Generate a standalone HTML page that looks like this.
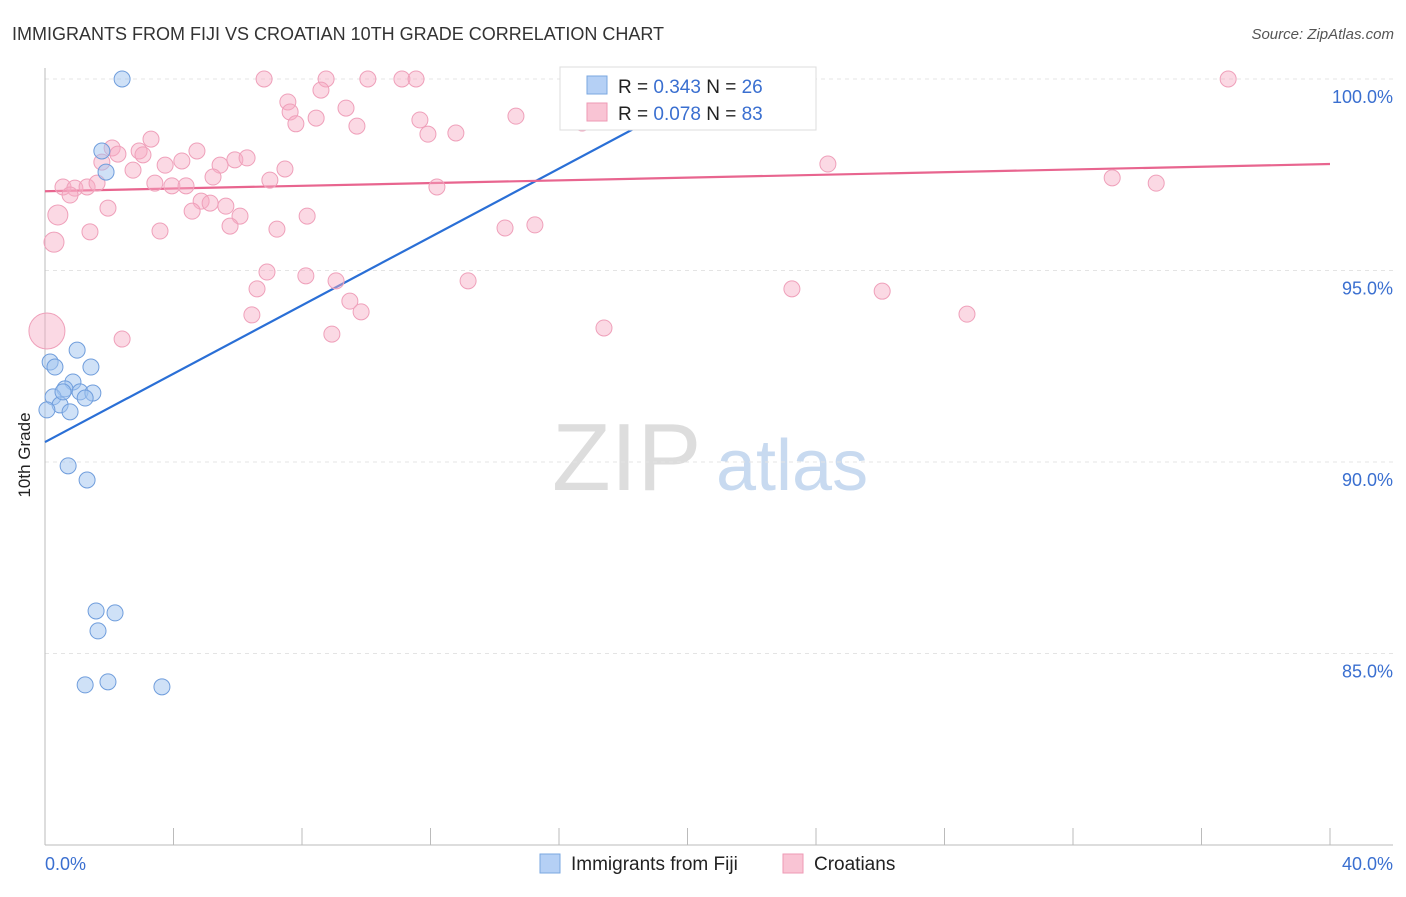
<!DOCTYPE html>
<html><head><meta charset="utf-8"><style>
body{margin:0;background:#fff;font-family:"Liberation Sans",sans-serif;}
svg text{font-family:"Liberation Sans",sans-serif;}
</style></head><body>
<svg id="c" width="1406" height="892" viewBox="0 0 1406 892">
<text x="12" y="40" font-size="18" fill="#333">IMMIGRANTS FROM FIJI VS CROATIAN 10TH GRADE CORRELATION CHART</text>
<text x="1394" y="39" font-size="15" fill="#555" text-anchor="end" font-style="italic">Source: ZipAtlas.com</text>
<text x="30" y="455" font-size="17" fill="#222" text-anchor="middle" transform="rotate(-90 30 455)">10th Grade</text>
<g><text x="552" y="490" font-size="96" fill="#ddd" font-family="Liberation Serif, serif">ZIP</text><text x="716" y="490" font-size="72" fill="#c8daf0">atlas</text></g>
<g id="grid"></g><g id="axes"></g><g id="trend"></g><g id="pts"></g>
<g>
<rect x="560" y="67" width="256" height="63" fill="#fff" stroke="#ddd"/>
<rect x="587" y="76" width="20" height="18" fill="#b5d0f5" stroke="#7aa7e0"/>
<text x="618" y="93" font-size="19" fill="#222">R = <tspan fill="#3a6fd0">0.343</tspan>   N = <tspan fill="#3a6fd0">26</tspan></text>
<rect x="587" y="103" width="20" height="18" fill="#f9c4d4" stroke="#ee9ab5"/>
<text x="618" y="120" font-size="19" fill="#222">R = <tspan fill="#3a6fd0">0.078</tspan>   N = <tspan fill="#3a6fd0">83</tspan></text>
</g>
<g>
<rect x="540" y="854" width="20" height="19" fill="#b5d0f5" stroke="#7aa7e0"/>
<text x="571" y="870" font-size="19" fill="#222">Immigrants from Fiji</text>
<rect x="783" y="854" width="20" height="19" fill="#f9c4d4" stroke="#ee9ab5"/>
<text x="814" y="870" font-size="19" fill="#222">Croatians</text>
</g>
</svg>
<script>
const yTicks=[100,95,90,85];
const yTickLabels=["100.0%","95.0%","90.0%","85.0%"];
const xTicks=[0,4,8,12,16,20,24,28,32,36,40];
const xEndLabels=["0.0%","40.0%"];
const fijiX=[2.40,1.77,1.90,0.16,0.31,1.00,1.43,0.87,0.62,1.09,1.49,0.25,0.47,1.25,0.06,0.78,0.72,1.31,1.59,2.18,1.65,1.25,1.96,3.64,18.06,0.56];
const fijiY=[100,98.12,97.57,92.61,92.48,92.92,92.48,92.09,91.91,91.83,91.80,91.70,91.49,91.67,91.36,91.31,89.90,89.53,86.11,86.06,85.59,84.18,84.26,84.13,100,91.83];
const croX=[6.82,8.75,10.05,11.11,11.55,18.09,22.26,36.83,7.56,7.63,8.59,9.37,7.81,8.44,9.71,11.67,11.92,12.79,14.66,16.72,3.30,2.09,2.93,4.73,1.77,2.27,3.05,4.26,3.74,2.74,5.45,5.91,6.29,7.47,5.23,3.42,3.95,4.39,0.56,0.93,1.31,1.62,0.78,7.00,12.20,4.86,5.14,5.63,1.96,0.40,4.58,6.07,8.16,5.76,1.40,3.58,7.22,14.32,15.25,0.28,24.37,33.22,34.59,6.91,8.12,9.06,13.17,6.60,9.49,9.84,6.44,23.25,26.06,28.70,17.40,8.93,2.40,0.06];
const croY=[100,100,100,100,100,100,100,100,99.40,99.14,99.71,99.24,98.83,98.98,98.77,98.93,98.56,98.59,99.03,98.85,98.43,98.20,98.12,98.12,97.83,98.04,98.02,97.86,97.75,97.62,97.75,97.89,97.94,97.65,97.44,97.28,97.21,97.21,97.18,97.15,97.18,97.28,96.97,97.36,97.18,96.81,96.76,96.68,96.63,96.45,96.55,96.42,96.42,96.16,96.01,96.03,96.08,96.11,96.19,95.74,97.78,97.42,97.28,94.96,94.86,94.73,94.73,94.52,94.20,93.92,93.84,94.52,94.46,93.86,93.50,93.34,93.21,93.42];
const croR=[8,8,8,8,8,8,8,8,8,8,8,8,8,8,8,8,8,8,8,8,8,8,8,8,8,8,8,8,8,8,8,8,8,8,8,8,8,8,8,8,8,8,8,8,8,8,8,8,8,10,8,8,8,8,8,8,8,8,8,10,8,8,8,8,8,8,8,8,8,8,8,8,8,8,8,8,8,18];
const fijiTrendX=[0,20.3];const fijiTrendY=[90.52,99.58];
const croTrendX=[0,40];const croTrendY=[97.07,97.78];
const X=v=>45+v/40*1285, Y=v=>79+(100-v)*38.3;
const NS="http://www.w3.org/2000/svg";
function mk(p,t,a){const e=document.createElementNS(NS,t);for(const k in a)e.setAttribute(k,a[k]);p.appendChild(e);return e;}
const grid=document.getElementById('grid'),axes=document.getElementById('axes'),trend=document.getElementById('trend'),pts=document.getElementById('pts');
yTicks.forEach((t,i)=>{
 const l=mk(grid,'line',{x1:45,x2:1393,y1:Y(t),y2:Y(t),stroke:'#e4e4e4','stroke-dasharray':'4,4'});
 
 
 const tx=mk(axes,'text',{x:1393,y:Y(t)+24,'font-size':18,fill:'#3a6fd0','text-anchor':'end'});tx.textContent=yTickLabels[i];
 
 
});
const ya=mk(axes,'line',{x1:45,x2:45,y1:68,y2:845,stroke:'#bbb'});


const xa=mk(axes,'line',{x1:45,x2:1393,y1:845,y2:845,stroke:'#bbb'});


xTicks.forEach(t=>{const l=mk(axes,'line',{x1:X(t),x2:X(t),y1:828,y2:845,stroke:'#bbb'});
 
 });
[[0,'start',45],[40,'end',1393]].forEach((d,i)=>{const tx=mk(axes,'text',{x:d[2],y:870,'font-size':18,fill:'#3a6fd0','text-anchor':d[1]});tx.textContent=xEndLabels[i];
 
 });
croX.forEach((v,i)=>{const c=mk(pts,'circle',{cx:X(v),cy:Y(croY[i]),r:croR[i],fill:'rgba(247,170,195,0.45)',stroke:'#efa0ba','stroke-width':1});
 
 });
fijiX.forEach((v,i)=>{const c=mk(pts,'circle',{cx:X(v),cy:Y(fijiY[i]),r:8,fill:'rgba(160,195,240,0.5)',stroke:'#6f9ddc','stroke-width':1});
 
 });
const tf=mk(trend,'line',{x1:X(fijiTrendX[0]),y1:Y(fijiTrendY[0]),x2:X(fijiTrendX[1]),y2:Y(fijiTrendY[1]),stroke:'#2a6fd6','stroke-width':2.2});


const tc=mk(trend,'line',{x1:X(croTrendX[0]),y1:Y(croTrendY[0]),x2:X(croTrendX[1]),y2:Y(croTrendY[1]),stroke:'#e8658f','stroke-width':2.2});


</script>
</body></html>
